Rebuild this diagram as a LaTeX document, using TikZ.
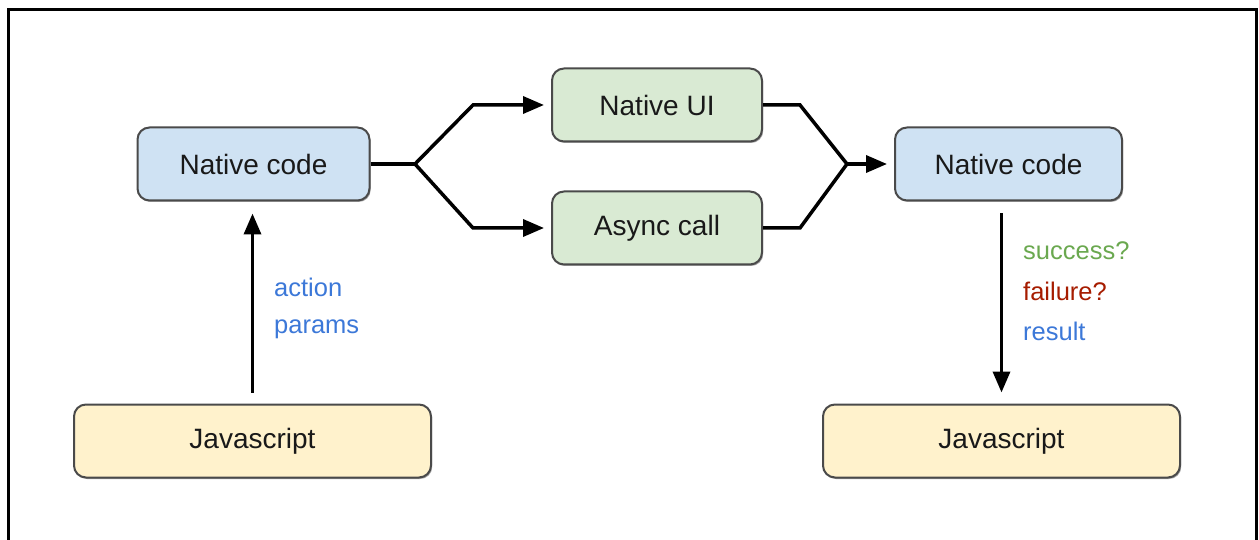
\documentclass[tikz,border=0pt]{standalone}
\usepackage{fontspec}
\setmainfont{Liberation Sans}
\usetikzlibrary{arrows.meta,shadows}
\definecolor{bluefill}{HTML}{CFE2F3}
\definecolor{greenfill}{HTML}{D9EAD3}
\definecolor{yellowfill}{HTML}{FFF2CC}
\definecolor{boxline}{HTML}{4A4A4A}
\definecolor{lblblue}{HTML}{3C78D8}
\definecolor{lblgreen}{HTML}{6AA84F}
\definecolor{lblred}{HTML}{A61C00}
\tikzset{
  box/.style={draw=boxline, line width=2pt, rounded corners=12pt, inner sep=0pt,
    minimum height=73pt, text=black!90,
    font=\fontsize{28}{34}\selectfont,
    drop shadow={shadow xshift=1.2pt, shadow yshift=-1.5pt, opacity=0.35, fill=black}},
  bluebox/.style={box, fill=bluefill},
  greenbox/.style={box, fill=greenfill},
  yellowbox/.style={box, fill=yellowfill},
  conn/.style={line width=3.5pt, draw=black},
  arr/.style={conn, -{Triangle[length=21pt,width=17pt]}},
  lbl/.style={anchor=base west, inner sep=0pt, font=\fontsize{25.5}{30}\selectfont},
}
\begin{document}
\begin{tikzpicture}[x=1pt, y=-1pt]
\useasboundingbox (0,0) rectangle (1259,540);
\draw[line width=3pt] (8.5,560) -- (8.5,9.5) -- (1256.5,9.5) -- (1256.5,560);

\node[bluebox, minimum width=232pt] (nl) at (253.5,164) {Native code};
\node[greenbox, minimum width=210pt] (ui) at (657,105) {Native UI};
\node[greenbox, minimum width=210pt] (ac) at (657,228) {Async call};
\node[bluebox, minimum width=227pt] (nr) at (1008.5,164) {Native code};
\node[yellowbox, minimum width=357pt] (jl) at (252.5,441) {Javascript};
\node[yellowbox, minimum width=357pt] (jr) at (1001.5,441) {Javascript};

\coordinate (s1) at (415,164);
\coordinate (s1u) at (473,105);
\coordinate (s1d) at (473,228);
\coordinate (m1) at (847,164);
\coordinate (m1u) at (800,105);
\coordinate (m1d) at (800,228);

\draw[conn] (nl.east) -- (s1);
\draw[arr, shorten >=7pt] (s1) -- (s1u) -- (ui.west);
\draw[arr, shorten >=7pt] (s1) -- (s1d) -- (ac.west);
\draw[conn] (ui.east) -- (m1u) -- (m1);
\draw[conn] (ac.east) -- (m1d) -- (m1);
\draw[arr, shorten >=7pt] (m1) -- (nr.west);

\draw[arr, shorten <=11pt, shorten >=12pt] (jl.north) -- (jl.north |- nl.south);
\draw[arr, shorten <=12pt, shorten >=11pt] (jr.north |- nr.south) -- (jr.north);

\node[lbl, text=lblblue] (la) at (274,297) {action};
\node[lbl, text=lblblue] (lp) at (274,333) {params};
\node[lbl, text=lblgreen] (ls) at (1023,260) {success?};
\node[lbl, text=lblred] (lf) at (1023,301) {failure?};
\node[lbl, text=lblblue] (lr) at (1023,341) {result};
\end{tikzpicture}
\end{document}
